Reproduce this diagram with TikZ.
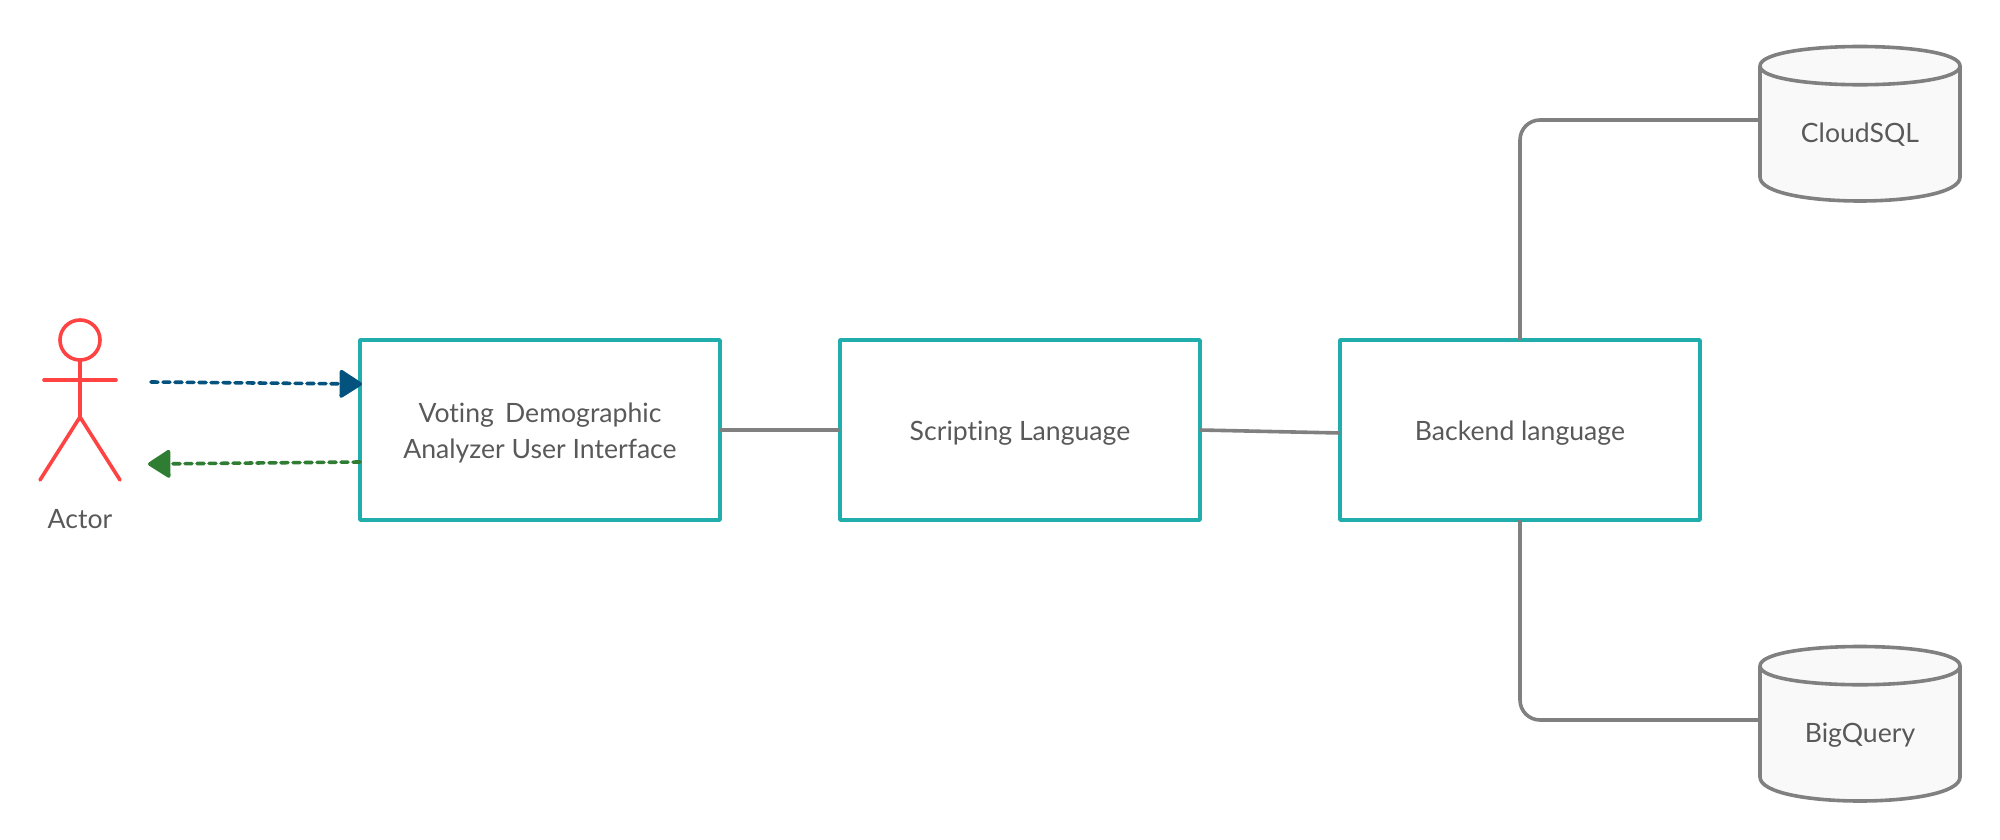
\documentclass[tikz,border=0pt]{standalone}
\usepackage{fontspec}
\setmainfont{Lato}[Ligatures=NoCommon]
\usetikzlibrary{arrows.meta}
\definecolor{teal1}{HTML}{22ADAD}
\definecolor{gray1}{HTML}{808080}
\definecolor{txt}{HTML}{595959}
\definecolor{red1}{HTML}{FF4242}
\definecolor{blue1}{HTML}{04527E}
\definecolor{green1}{HTML}{2E7D32}
\definecolor{fill1}{HTML}{F9F9F9}
\newcommand{\lowerstrut}{\rule{0pt}{25pt}}
\tikzset{
  x=1pt,y=-1pt,
  every node/.style={font=\fontsize{26.6}{36}\selectfont,text=txt,align=center,inner sep=0pt,outer sep=0pt},
  procbox/.style={draw=teal1,line width=3.6pt,minimum width=360pt,minimum height=180pt,line join=round},
  link/.style={draw=gray1,line width=3.6pt,rounded corners=20pt},
  cyl/.style={draw=gray1,fill=fill1,line width=3.6pt,line join=round},
  stick/.style={draw=red1,line width=3.6pt,line cap=round,line join=round},
  msgb/.style={draw=blue1,line width=3.6pt,line cap=round,dash pattern=on 7pt off 5pt,-{Triangle[length=24pt,width=30pt,round]}},
  msgg/.style={draw=green1,line width=3.6pt,line cap=round,dash pattern=on 7pt off 5pt,-{Triangle[length=24pt,width=30pt,round]}},
}
\newcommand{\dbcyl}[1]{%
  \path[cyl] (1760,#1+19) .. controls (1760,#1-7) and (1960,#1-7) .. (1960,#1+19)
    -- (1960,#1+130) .. controls (1960,#1+162) and (1760,#1+162) .. (1760,#1+130) -- cycle;
  \path[cyl,fill=none] (1760,#1+19) .. controls (1760,#1+44) and (1960,#1+44) .. (1960,#1+19);
}
\begin{document}
\begin{tikzpicture}
\useasboundingbox (0,0) rectangle (2000,840);
% actor
\draw[stick] (80,340) circle[radius=20];
\draw[stick] (80,360) -- (80,417);
\draw[stick] (44,380) -- (116,380);
\draw[stick] (40,480) -- (80,417) -- (120,480);
\node (actor) at (80,519) {Actor};
\coordinate (actorout) at (151,382);
\coordinate (actorin) at (148,464);
% boxes
\node[procbox] (ui) at (540,430) {\lowerstrut Voting\hspace{0.42em}Demographic\\Analyzer User Interface};
\node[procbox] (script) at (1020,430) {\lowerstrut Scripting Language};
\node[procbox] (backend) at (1520,430) {\lowerstrut Backend language};
\coordinate (uiin) at (362,384);
\coordinate (uiout) at (360,462);
% databases
\dbcyl{47}
\dbcyl{647}
\node (cloud) at (1860,135) {CloudSQL};
\node (big) at (1860,735) {BigQuery};
\coordinate (cloudport) at (1760,120);
\coordinate (bigport) at (1760,720);
% connectors
\draw[link] (ui.east) -- (script.west);
\draw[link] (script.east) -- ([yshift=-3pt]backend.west);
\draw[link] (backend.north) |- (cloudport);
\draw[link] (backend.south) |- (bigport);
\draw[msgb] (actorout) -- (uiin);
\draw[msgg] (uiout) -- (actorin);
\end{tikzpicture}
\end{document}
